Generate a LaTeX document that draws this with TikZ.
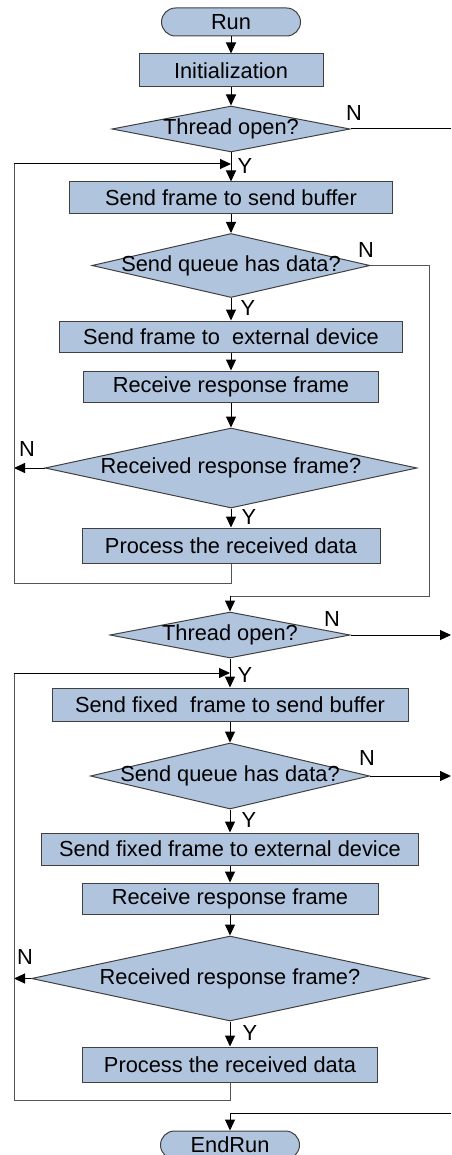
\documentclass[tikz,border=0pt]{standalone}
\usepackage{fontspec}
\setmainfont{Liberation Sans}
\usetikzlibrary{arrows.meta,shapes.geometric}
\definecolor{boxfill}{HTML}{B0C4DE}
\definecolor{boxline}{HTML}{404040}
\definecolor{loopline}{HTML}{555555}
\tikzset{
  procbox/.style={rectangle, draw=boxline, fill=boxfill, line width=1pt, inner sep=0pt},
  termbox/.style={rectangle, rounded corners=14pt, draw=boxline, fill=boxfill, line width=1pt, inner sep=0pt, minimum width=139pt, minimum height=28pt},
  decbox/.style={diamond, draw=boxline, fill=boxfill, line width=1pt, inner sep=0pt},
  yn/.style={inner sep=0pt},
  conn/.style={draw=black, line width=1pt},
  loopconn/.style={draw=loopline, line width=1pt},
}
\begin{document}
\begin{tikzpicture}[x=1pt,y=-1pt,font=\fontsize{21.8}{24}\selectfont,
  >={Triangle[length=11pt,width=10pt]}]
\useasboundingbox (0,0) rectangle (451,1155);
% upper part
\node[termbox] (run) at (231,22) {Run};
\node[procbox, minimum width=184pt, minimum height=33pt] (init) at (231,70.5) {Initialization};
\node[decbox, minimum width=238pt, minimum height=46pt, label={center:Thread open?}] (t1) at (231,129) {};
\node[procbox, minimum width=323pt, minimum height=32pt] (sb1) at (231,198) {Send frame to send buffer};
\node[decbox, minimum width=278pt, minimum height=64pt, label={center:Send queue has data?}] (q1) at (231,265.5) {};
\node[procbox, minimum width=343pt, minimum height=31pt] (ext1) at (231,336.5) {Send frame to\ \ external device};
\node[procbox, minimum width=295pt, minimum height=31pt] (rr1) at (231,386.5) {Receive response frame};
\node[decbox, minimum width=372pt, minimum height=80pt, label={center:Received response frame?}] (r1) at (231,468) {};
\node[procbox, minimum width=298pt, minimum height=35pt] (p1) at (231,545.5) {Process the received data};
% lower part
\node[decbox, minimum width=240pt, minimum height=46pt, label={center:Thread open?}] (t2) at (230,635) {};
\node[procbox, minimum width=356pt, minimum height=33pt] (sb2) at (230,704.5) {Send fixed\ \ frame to send buffer};
\node[decbox, minimum width=279pt, minimum height=66pt, label={center:Send queue has data?}] (q2) at (230,776) {};
\node[procbox, minimum width=377pt, minimum height=32pt] (ext2) at (230,849) {Send fixed frame to external device};
\node[procbox, minimum width=296pt, minimum height=31pt] (rr2) at (230,898.5) {Receive response frame};
\node[decbox, minimum width=397pt, minimum height=85pt, label={center:Received response frame?}] (r2) at (230,978.5) {};
\node[procbox, minimum width=295pt, minimum height=35pt] (p2) at (230,1064.5) {Process the received data};
\node[termbox] (endrun) at (230,1145) {EndRun};

% coordinates
\coordinate (t1n) at (451,129);
\coordinate (q1a) at (429,265.5);
\coordinate (q1b) at (429,596);
\coordinate (q1c) at (230,596);
\coordinate (r1w) at (14,468);
\coordinate (l1a) at (231,583);
\coordinate (l1b) at (14,583);
\coordinate (l1c) at (14,164);
\coordinate (l1d) at (231,164);
\coordinate (t2n) at (451,635);
\coordinate (q2n) at (451,776);
\coordinate (r2w) at (14,978.5);
\coordinate (l2a) at (230,1100);
\coordinate (l2b) at (14,1100);
\coordinate (l2c) at (14,673);
\coordinate (l2d) at (230,673);
\coordinate (e1) at (451,1113);
\coordinate (e2) at (230,1113);

% connectors upper
\draw[conn,->] (run) -- (init);
\draw[conn,->] (init) -- (t1);
\draw[conn] (t1.east) -- (t1n);
\draw[conn,->] (t1) -- (sb1);
\draw[conn,->] (sb1) -- (q1);
\draw[loopconn] (q1.east) -- (q1a) -- (q1b) -- (q1c);
\draw[conn,->] (q1c) -- (t2.north);
\draw[conn,->] (q1) -- (ext1);
\draw[conn,->] (ext1) -- (rr1);
\draw[conn,->] (rr1) -- (r1);
\draw[conn,->] (r1.west) -- (r1w);
\draw[conn,->] (r1) -- (p1);
\draw[loopconn] (p1.south) -- (l1a) -- (l1b) -- (l1c);
\draw[conn,->] (l1c) -- (l1d);
% connectors lower
\draw[conn,->] (t2.east) -- (t2n);
\draw[conn,->] (t2) -- (sb2);
\draw[conn,->] (sb2) -- (q2);
\draw[conn,->] (q2.east) -- (q2n);
\draw[conn,->] (q2) -- (ext2);
\draw[conn,->] (ext2) -- (rr2);
\draw[conn,->] (rr2) -- (r2);
\draw[conn,->] (r2.west) -- (r2w);
\draw[conn,->] (r2) -- (p2);
\draw[loopconn] (p2.south) -- (l2a) -- (l2b) -- (l2c);
\draw[conn,->] (l2c) -- (l2d);
\draw[conn] (e1) -- (e2);
\draw[conn,->] (e2) -- (endrun.north);

% Y / N labels
\node[yn] (n1) at (354,113) {N};
\node[yn] (y1) at (245,166) {Y};
\node[yn] (n2) at (366,250) {N};
\node[yn] (y2) at (248,308) {Y};
\node[yn] (n3) at (27,449) {N};
\node[yn] (y3) at (249,517) {Y};
\node[yn] (n4) at (332,619) {N};
\node[yn] (y4) at (245,675) {Y};
\node[yn] (n5) at (367,758) {N};
\node[yn] (y5) at (249,820) {Y};
\node[yn] (n6) at (25,957) {N};
\node[yn] (y6) at (250,1033) {Y};
\end{tikzpicture}
\end{document}
